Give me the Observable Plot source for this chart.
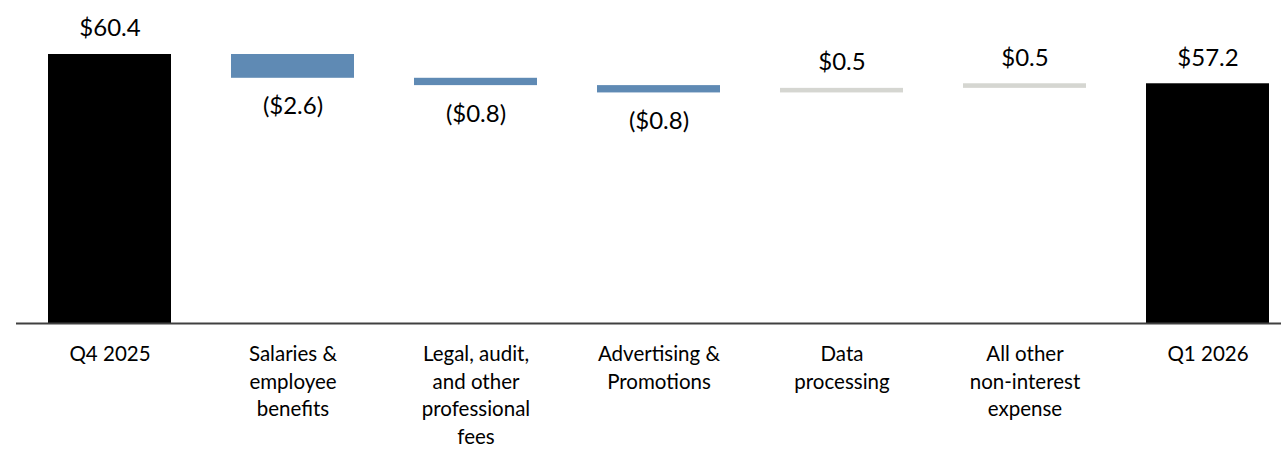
<!DOCTYPE html>
<html>
<head>
<meta charset="utf-8">
<script src="https://cdn.jsdelivr.net/npm/d3@7"></script>
<script src="https://cdn.jsdelivr.net/npm/@observablehq/plot@0.6"></script>
<style>
  html, body { margin: 0; padding: 0; background: #fff; }
  #chart svg { display: block; }
</style>
</head>
<body>
<div id="chart"></div>
<script>
// ---- Data ----
const categories = [
  "Q4 2025",
  "Salaries &\nemployee\nbenefits",
  "Legal, audit,\nand other\nprofessional\nfees",
  "Advertising &\nPromotions",
  "Data\nprocessing",
  "All other\nnon-interest\nexpense",
  "Q1 2026"
];
const values = [60.4, -2.6, -0.8, -0.8, 0.5, 0.5, 57.2];
const kinds = ["total", "delta", "delta", "delta", "delta", "delta", "total"];
const yBase = 31; // value at the baseline (axis is not zero-based)

// ---- Build waterfall table ----
const colorTotal = "#000000", colorNeg = "#5F8AB4", colorPos = "#D5D6D1";
let running = 0;
const rows = categories.map((cat, i) => {
  const v = values[i];
  let y1, y2;
  if (kinds[i] === "total") { y1 = yBase; y2 = v; running = v; }
  else { y1 = running; y2 = running + v; running = y2; }
  const fmt = Math.abs(v).toFixed(1);
  return {
    cat, v, y1, y2,
    top: Math.max(y1, y2), bottom: Math.min(y1, y2),
    fill: kinds[i] === "total" ? colorTotal : (v < 0 ? colorNeg : colorPos),
    label: v < 0 ? `($${fmt})` : `$${fmt}`
  };
});

const font = "Lato, 'Open Sans', sans-serif";

const chart = Plot.plot({
  width: 1281,
  height: 450,
  marginLeft: 16,
  marginRight: 0,
  marginTop: 0,
  marginBottom: 127,
  style: { fontFamily: font, color: "#000", background: "#fff" },
  x: { domain: categories, range: [15.7, 1300.2], paddingInner: 0.33, paddingOuter: 0.165, label: null },
  y: { domain: [yBase, 60.4], range: [323, 54], axis: null },
  color: { type: "identity" },
  marks: [
    Plot.barY(rows, { x: "cat", y1: "y1", y2: "y2", fill: "fill" }),
    Plot.ruleY([yBase], { stroke: "#404040", strokeWidth: 2 }),
    Plot.text(rows.filter(d => d.v >= 0), {
      x: "cat", y: "top", text: "label", dy: -25.7, lineAnchor: "middle",
      fontSize: 24, fontFamily: font, fill: "#000"
    }),
    Plot.text(rows.filter(d => d.v < 0), {
      x: "cat", y: "bottom", text: "label", dy: 28.3, lineAnchor: "middle",
      fontSize: 24, fontFamily: font, fill: "#000"
    }),
    Plot.axisX({
      tickSize: 0, tickPadding: 18, fontSize: 20.5, lineHeight: 1.35,
      fontFamily: font, label: null, fill: "#000"
    })
  ]
});

document.getElementById("chart").appendChild(chart);
</script>
</body>
</html>
